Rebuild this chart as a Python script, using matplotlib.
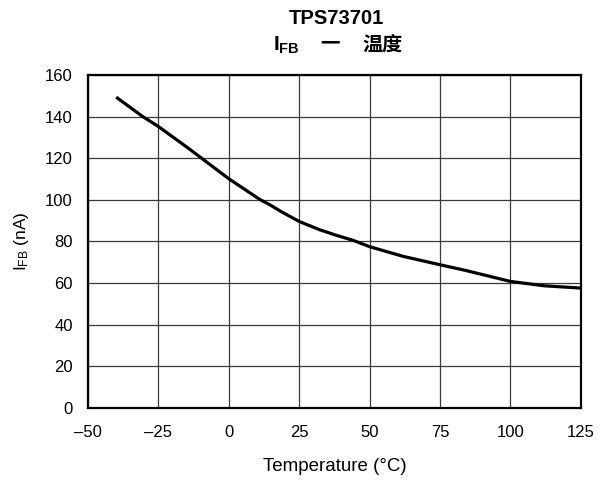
import matplotlib
matplotlib.use("Agg")
import matplotlib.pyplot as plt

# 温度特性数据 (读自图中)
temp = [-40, -30.6, -25, -14.4, -9.7, 0, 11.2, 14.6, 18.5, 25, 32.3, 38.3, 44.2, 50,
        56.6, 62, 75, 84, 100, 112, 125]
i_fb = [149.3, 140, 135.2, 124.8, 120, 110.1, 100, 97.6, 94.4, 89.6, 85.6, 82.9, 80.5,
        77.5, 74.9, 72.8, 68.8, 66.1, 60.8, 58.7, 57.6]

x_ticks = [-50, -25, 0, 25, 50, 75, 100, 125]
x_labels = ['\u201350', '\u201325', '0', '25', '50', '75', '100', '125']
y_ticks = [0, 20, 40, 60, 80, 100, 120, 140, 160]

plt.rcParams['font.family'] = ['Liberation Sans', 'Noto Sans CJK SC']
plt.rcParams['mathtext.fontset'] = 'custom'
plt.rcParams['mathtext.rm'] = 'Liberation Sans'
plt.rcParams['mathtext.it'] = 'Liberation Sans'
plt.rcParams['mathtext.bf'] = 'Liberation Sans:bold'

fig = plt.figure(figsize=(6.05, 4.8), dpi=100)
ax = fig.add_axes([0.1455, 0.15, 0.8145, 0.694])

ax.plot(temp, i_fb, color='black', linewidth=2.3, solid_capstyle='butt',
        solid_joinstyle='round')

ax.set_xlim(-50, 125)
ax.set_ylim(0, 160)
ax.set_xticks(x_ticks)
ax.set_xticklabels(x_labels)
ax.set_yticks(y_ticks)
ax.tick_params(axis='both', length=0, labelsize=12)
ax.tick_params(axis='x', pad=12.5)
ax.tick_params(axis='y', pad=11)
ax.grid(True, color='#3a3a3a', linewidth=0.9)
for s in ax.spines.values():
    s.set_linewidth(1.6)

ax.set_xlabel('Temperature (\u00b0C)', fontsize=13.5, labelpad=13)
ax.set_ylabel(r'$\mathregular{I_{FB}}$ (nA)', fontsize=12.5, labelpad=10)

# 标题
fig.text(336 / 605, 1 - 19 / 480, 'TPS73701', fontsize=14.5, fontweight='bold',
         ha='center', va='center')
fig.text(286 / 605, 1 - 45 / 480, r'$\mathbf{I_{FB}}$', fontsize=15,
         ha='center', va='center')
fig.text(330 / 605, 1 - 44 / 480, '\u4e00', fontsize=14, fontweight='bold',
         ha='center', va='center', family=['Noto Sans CJK SC'])
fig.text(383 / 605, 1 - 44 / 480, '温度', fontsize=14.5, fontweight='bold',
         ha='center', va='center', family=['Noto Sans CJK SC'])

plt.savefig('out.png', dpi=100)
